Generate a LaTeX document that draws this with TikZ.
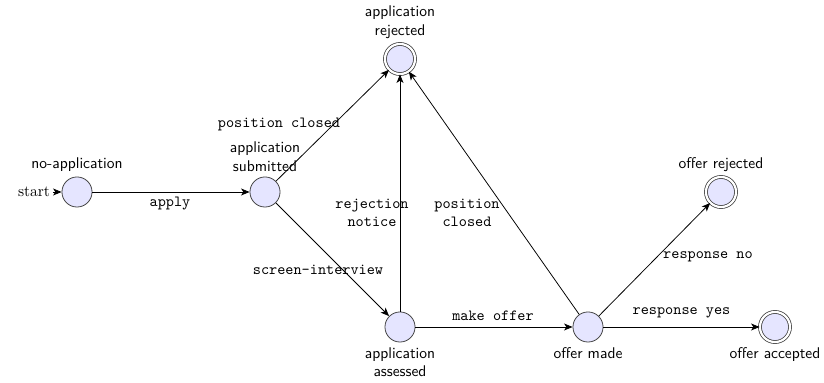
\documentclass[tikz,border=0pt]{standalone}
\usetikzlibrary{arrows.meta}
\begin{document}
\begin{tikzpicture}[x=0.645pt,y=-0.645pt,
  state/.style={circle,draw=black!75,fill=blue!10,minimum size=19.4pt,inner sep=0pt,line width=0.5pt},
  accept/.style={state,double=white,double distance=1.4pt},
  lab/.style={font=\sffamily,align=center,inner sep=3pt},
  lbl/.style={font=\ttfamily,inner sep=2pt,align=center},
  conn/.style={-{Stealth[length=5.5pt,width=4.5pt,inset=1.5pt]},line width=0.5pt}]
\useasboundingbox (0,0) rectangle (824,383);
\node[state,label={[lab]above:no-application}] (n0) at (77,192) {};
\node[state,label={[lab]above:application\\submitted}] (n1) at (265,192) {};
\node[accept,label={[lab]above:application\\rejected}] (rej) at (400,59) {};
\node[state,label={[lab]below:application\\assessed}] (ass) at (400,327) {};
\node[state,label={[lab]below:offer made}] (om) at (588,327) {};
\node[accept,label={[lab]above:offer rejected}] (orj) at (721,192) {};
\node[accept,label={[lab]below:offer accepted}] (oacc) at (775,327) {};
\node[inner sep=2pt] (st) at (34,192) {start};
\draw[conn] (st) -- (n0);
\draw[conn] (n0) -- node[lbl,midway,shift={(-1,12)}] {apply} (n1);
\draw[conn] (n1) -- node[lbl,midway,shift={(-53.5,-1)}] {position closed} (rej);
\draw[conn] (n1) -- node[lbl,midway,shift={(-14.5,10)}] {screen-interview} (ass);
\draw[conn] (ass) -- node[lbl,midway,shift={(-28,20)}] {rejection\\notice} (rej);
\draw[conn] (ass) -- node[lbl,midway,shift={(-1,-11)}] {make offer} (om);
\draw[conn] (om) -- node[lbl,midway,shift={(-27,20)}] {position\\closed} (rej);
\draw[conn] (om) -- node[lbl,midway,shift={(53.5,-3)}] {response no} (orj);
\draw[conn] (om) -- node[lbl,midway,shift={(0,-14)}] {response yes} (oacc);
\end{tikzpicture}
\end{document}
